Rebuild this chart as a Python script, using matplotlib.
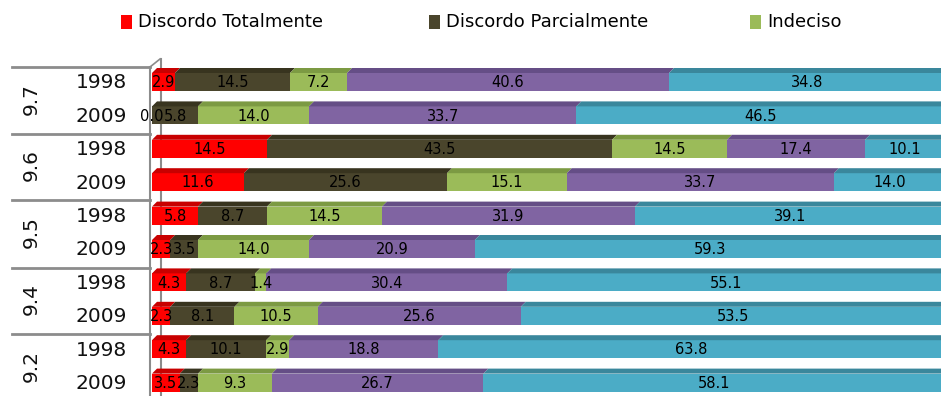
import numpy as np
import matplotlib.pyplot as plt
from matplotlib.patches import Polygon, Rectangle
from matplotlib.lines import Line2D

# answers per item and year, in percent
series = ["Discordo Totalmente", "Discordo Parcialmente", "Indeciso",
          "Concordo Parcialmente", "Concordo Totalmente"]
groups = ["9.7", "9.6", "9.5", "9.4", "9.2"]
years = ["1998", "2009"]

disc_total = [2.9, 0.0, 14.5, 11.6, 5.8, 2.3, 4.3, 2.3, 4.3, 3.5]
disc_parc = [14.5, 5.8, 43.5, 25.6, 8.7, 3.5, 8.7, 8.1, 10.1, 2.3]
indeciso = [7.2, 14.0, 14.5, 15.1, 14.5, 14.0, 1.4, 10.5, 2.9, 9.3]
conc_parc = [40.6, 33.7, 17.4, 33.7, 31.9, 20.9, 30.4, 25.6, 18.8, 26.7]
conc_total = [34.8, 46.5, 10.1, 14.0, 39.1, 59.3, 55.1, 53.5, 63.8, 58.1]

front = ["#FF0000", "#4A452C", "#9BBB59", "#8064A2", "#4BACC6"]
top = ["#C80000", "#38341F", "#7C9A43", "#654E86", "#3A879C"]

W, H = 941, 396
fig = plt.figure(figsize=(W / 100, H / 100), dpi=100)

def fx(px):
    return px / W

def fy(py):
    return 1 - py / H

# plotting area: 0..100 % spans 793 px starting at x=152
x0, ppu = 152, 7.93
row0, rowh = 82, 33.4
ax = fig.add_axes([fx(x0), 0, 100 * ppu / W, (H - 60) / H])
ax.set_xlim(0, 100)
ax.set_ylim((H - row0) / rowh, -(row0 - 60) / rowh)
ax.axis("off")

data = np.array([disc_total, disc_parc, indeciso, conc_parc, conc_total])
n = data.shape[1]
ypos = np.arange(n)
bh = 18 / rowh
dx, dy = 5 / ppu, 5 / rowh

left = np.zeros(n)
for k in range(len(series)):
    vals = data[k]
    ax.barh(ypos, vals, left=left, height=bh, color=front[k], linewidth=0, zorder=2)
    for i in range(n):
        l, r = left[i], left[i] + vals[i]
        yt = ypos[i] - bh / 2
        ax.add_patch(Polygon([(l, yt), (r, yt), (r + dx, yt - dy), (l + dx, yt - dy)],
                             closed=True, facecolor=top[k], edgecolor="none", zorder=2))
        ax.text((l + r) / 2, ypos[i] + 0.02, "%.1f" % vals[i], ha="center", va="center",
                fontsize=10.5, color="black", zorder=4)
    left += vals

# category table on the left
grey = "#8C8C8C"
for gy in [67, 133.5, 200.5, 267.5, 334]:
    fig.add_artist(Line2D([fx(12), fx(150)], [fy(gy), fy(gy)], color=grey, lw=2))
fig.add_artist(Line2D([fx(150), fx(150)], [fy(67), fy(396)], color=grey, lw=1.5))
fig.add_artist(Line2D([fx(150), fx(160)], [fy(67), fy(59)], color=grey, lw=1.2))
fig.add_artist(Line2D([fx(160.5), fx(160.5)], [fy(59), fy(396)], color=grey, lw=1.5, zorder=0))

for i in range(n):
    fig.text(fx(127), fy(row0 + rowh * i + 1), years[i % 2], ha="right", va="center",
             fontsize=14.5, color="#111111")
for g, name in enumerate(groups):
    fig.text(fx(31), fy(row0 + rowh * (2 * g + 0.5)), name, ha="center", va="center",
             rotation=90, fontsize=14.5, color="#111111")

# legend across the top (only the first three entries fit in the frame)
lx = [121, 429, 750]
for k in range(len(lx)):
    fig.add_artist(Rectangle((fx(lx[k]), fy(29)), fx(11), 14 / H, facecolor=front[k],
                             edgecolor="none", transform=fig.transFigure))
    fig.text(fx(lx[k] + 17), fy(22), series[k], ha="left", va="center", fontsize=13,
             color="black")

fig.savefig("out.png", dpi=100)
